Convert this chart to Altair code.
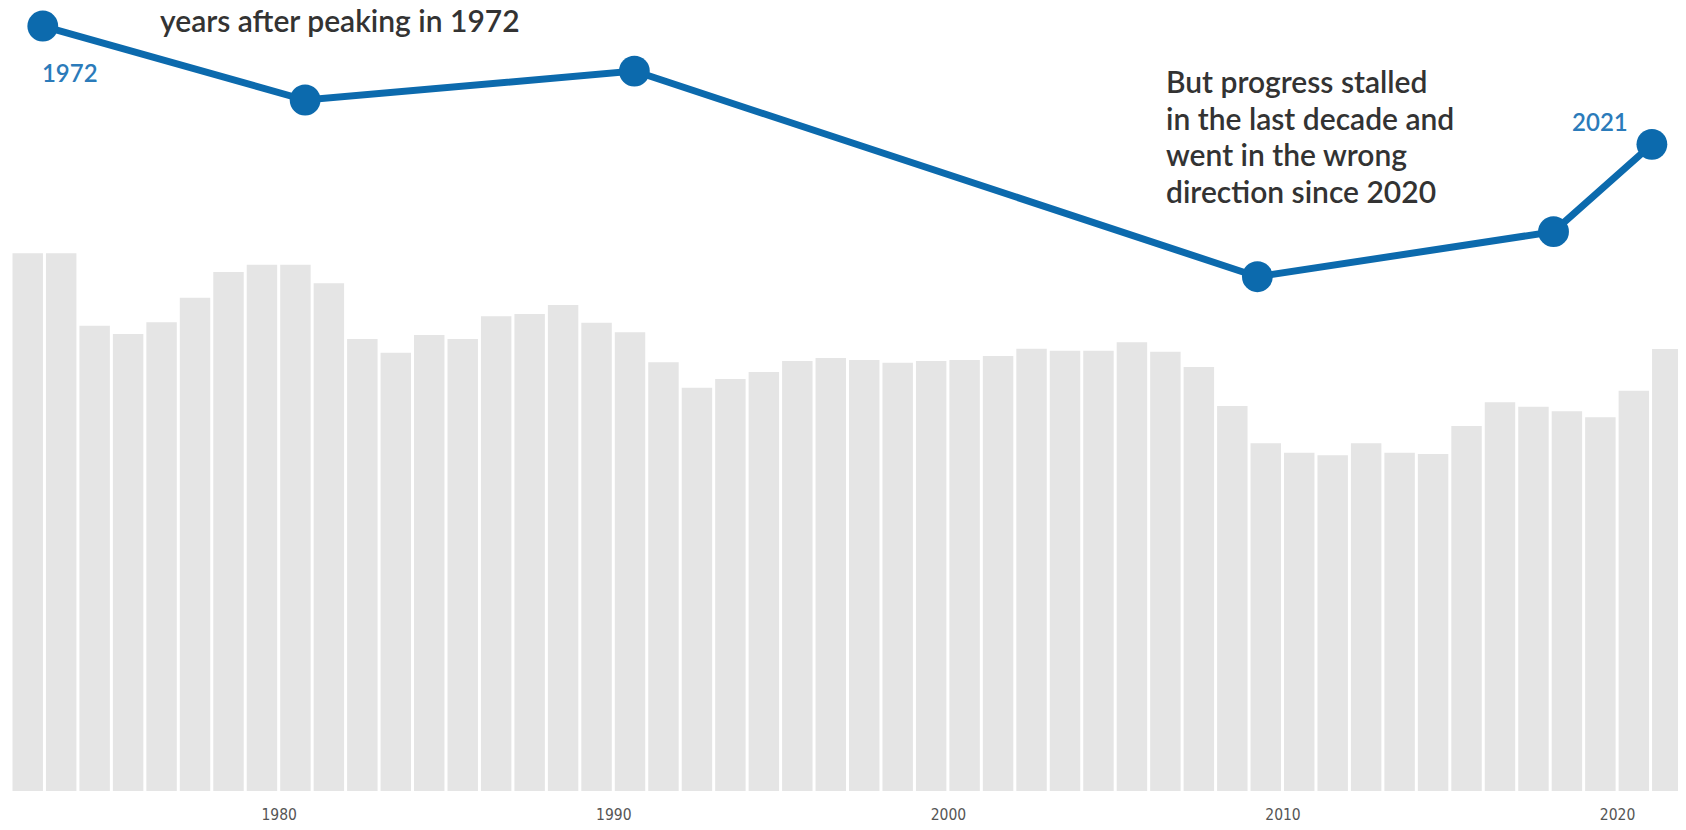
import altair as alt
import pandas as pd

# ---- data ----
years = list(range(1972, 2022))
deaths = [54590, 54590, 47240, 46390, 47580, 50080, 52690, 53430, 53430, 51540,
          45890, 44500, 46290, 45890, 48190, 48430, 49340, 47540, 46570, 43520,
          40940, 41830, 42540, 43650, 43960, 43750, 43480, 43650, 43750, 44160,
          44900, 44700, 44700, 45550, 44600, 43040, 39090, 35300, 34340, 34080,
          35300, 34340, 34210, 37050, 39460, 39020, 38550, 37940, 40640, 44870]

line_years = [1972.95, 1980.79, 1990.63, 2009.25, 2018.10, 2021.04]
line_values = [77660, 70150, 73090, 52210, 56780, 65650]
line_labels = ["1972", "", "", "", "", "2021"]

tick_years = [1980, 1990, 2000, 2010, 2020]
title_line = "years after peaking in 1972"
note_lines = ["But progress stalled", "in the last decade and",
              "went in the wrong", "direction since 2020"]

BLUE = "#0c6aad"
LABEL_BLUE = "#2b7bba"
BAR_GRAY = "#e5e5e5"
TEXT = "#333333"

bars_df = pd.DataFrame({"year": years, "value": deaths})
line_df = pd.DataFrame({"x": line_years, "value": line_values, "label": line_labels})
title_df = pd.DataFrame({"t": [title_line]})
note_df = pd.DataFrame({"t": ["\n".join(note_lines)]})

x_scale = alt.Scale(domain=[1972, 2021.82], nice=False, zero=False)
y_scale = alt.Scale(domain=[0, 79490], nice=False, zero=True)
x_axis = alt.Axis(values=tick_years, format="d", title=None, grid=False,
                  domain=False, ticks=False, tickSize=0, labelPadding=16,
                  labelFontSize=15.5, labelColor="#555555",
                  labelFont="DejaVu Sans Condensed", labelFlush=False)

bars = alt.Chart(bars_df).transform_calculate(
    x0="datum.year + 0.045", x1="datum.year + 0.955"
).mark_bar(color=BAR_GRAY).encode(
    x=alt.X("x0:Q", scale=x_scale, axis=x_axis),
    x2="x1:Q",
    y=alt.Y("value:Q", scale=y_scale, axis=None, stack=None),
    y2=alt.datum(0),
)

line = alt.Chart(line_df).mark_line(color=BLUE, strokeWidth=7).encode(
    x=alt.X("x:Q", scale=x_scale, axis=x_axis),
    y=alt.Y("value:Q", scale=y_scale, axis=None),
)

points = alt.Chart(line_df).mark_circle(size=950, color=BLUE, opacity=1).encode(
    x=alt.X("x:Q", scale=x_scale, axis=x_axis),
    y=alt.Y("value:Q", scale=y_scale, axis=None),
)

first_label = alt.Chart(line_df).transform_filter(
    "datum.label == '1972'"
).mark_text(align="center", baseline="alphabetic", dx=27, dy=56,
            fontSize=24, fontWeight=600, font="Lato", color=LABEL_BLUE).encode(
    x=alt.X("x:Q", scale=x_scale, axis=x_axis),
    y=alt.Y("value:Q", scale=y_scale, axis=None),
    text="label:N",
)

last_label = alt.Chart(line_df).transform_filter(
    "datum.label == '2021'"
).mark_text(align="center", baseline="alphabetic", dx=-52, dy=-13,
            fontSize=24, fontWeight=600, font="Lato", color=LABEL_BLUE).encode(
    x=alt.X("x:Q", scale=x_scale, axis=x_axis),
    y=alt.Y("value:Q", scale=y_scale, axis=None),
    text="label:N",
)

title_text = alt.Chart(title_df).mark_text(
    align="left", baseline="alphabetic", fontSize=30, fontWeight=600,
    font="Lato", color=TEXT
).encode(x=alt.value(149), y=alt.value(24), text="t:N")

note_text = alt.Chart(note_df).mark_text(
    align="left", baseline="alphabetic", fontSize=30, fontWeight=600,
    font="Lato", color=TEXT, lineBreak="\n", lineHeight=36.7
).encode(x=alt.value(1155), y=alt.value(85), text="t:N")

chart = alt.layer(
    bars, line, points, first_label, last_label, title_text, note_text
).properties(
    width=1667, height=783,
    padding={"left": 3, "top": 0, "right": 0, "bottom": 34},
    autosize=alt.AutoSizeParams(type="none"),
).configure_view(stroke=None)

chart.save("out.html", embed_options={"renderer": "svg", "actions": False})
